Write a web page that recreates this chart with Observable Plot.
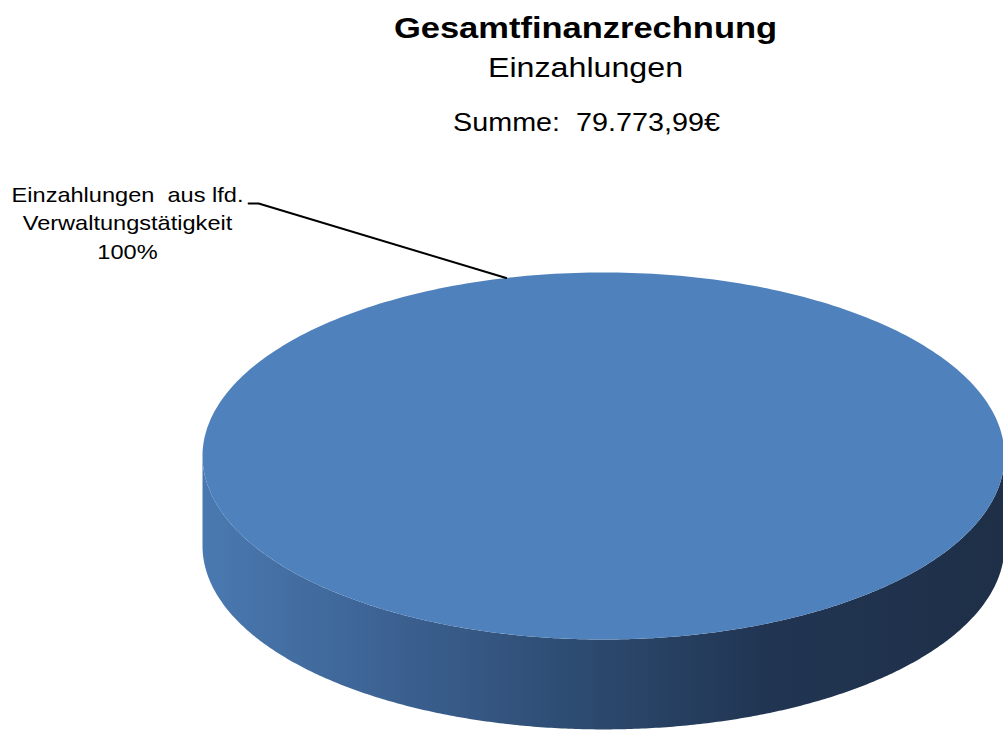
<!DOCTYPE html>
<html>
<head>
<meta charset="utf-8">
<script src="https://cdn.jsdelivr.net/npm/d3@7"></script>
<script src="https://cdn.jsdelivr.net/npm/@observablehq/plot@0.6"></script>
<style>
  html, body { margin: 0; padding: 0; background: #ffffff; }
  #chart svg { display: block; }
</style>
</head>
<body>
<div id="chart"></div>
<script>
// ---- data ----
const title = "Gesamtfinanzrechnung";
const subtitle = "Einzahlungen";
const sumLabel = "Summe:  79.773,99€";
const categories = ["Einzahlungen  aus lfd.\nVerwaltungstätigkeit"];
const values = [79773.99];
const colors = ["#4f81bd"];

// ---- layout constants ----
const W = 1003, H = 731;
const depth = 0.49;          // pie thickness in y-units
const stretch = 1.15;        // horizontal text stretch of the original image
const labelAngle = 1.816;    // angle (rad) on the rim where the leader line ends

// ---- geometry derived from data ----
const total = d3.sum(values);
const arcs = d3.pie().sort(null)(values);
const N = 360;
const topPts = [], sidePts = [];
arcs.forEach((a, i) => {
  // convert d3 angles (clockwise from 12 o'clock) to math angles
  const t1 = Math.PI / 2 - a.endAngle, t2 = Math.PI / 2 - a.startAngle;
  const pts = [];
  if (a.endAngle - a.startAngle < 2 * Math.PI - 1e-9) pts.push({x: 0, y: 0, i});
  for (let k = 0; k <= N; k++) {
    const t = t1 + (t2 - t1) * k / N;
    pts.push({x: Math.cos(t), y: Math.sin(t), i});
  }
  topPts.push(...pts);
  // visible front side: math angles between π and 2π
  const norm = t => ((t % (2 * Math.PI)) + 2 * Math.PI) % (2 * Math.PI);
  let s1 = Math.max(Math.PI, t1 < Math.PI ? Math.PI : t1);
  let s2 = Math.min(2 * Math.PI, t2);
  if (t2 - t1 >= 2 * Math.PI - 1e-9) { s1 = Math.PI; s2 = 2 * Math.PI; }
  if (s2 > s1) {
    const up = [], down = [];
    for (let k = 0; k <= N; k++) {
      const t = s1 + (s2 - s1) * k / N;
      up.push({x: Math.cos(t), y: Math.sin(t), i});
      down.push({x: Math.cos(t), y: Math.sin(t) - depth, i});
    }
    sidePts.push(...up, ...down.reverse());
  }
});

const labelText = categories.map((c, i) => `${c}\n${Math.round(values[i] / total * 100)}%`);
const rim = {x: Math.cos(labelAngle), y: Math.sin(labelAngle)};
const leader = [
  {x: -0.885, y: 1.376},
  {x: -0.860, y: 1.376},
  rim
];

const chart = Plot.plot({
  width: W,
  height: H,
  margin: 0,
  style: {fontFamily: "'Liberation Sans', Arial, sans-serif", background: "#ffffff", overflow: "visible"},
  x: {domain: [-1, 1], range: [202, 1004], axis: null},
  y: {domain: [-1, 1], range: [639, 272], axis: null},
  marks: [
    Plot.line(sidePts, {x: "x", y: "y", z: "i", fill: "url(#sideGrad)", stroke: "none", curve: "linear"}),
    Plot.line(topPts, {x: "x", y: "y", z: "i", fill: (d) => colors[d.i], stroke: "none", curve: "linear"}),
    Plot.line(leader, {x: "x", y: "y", stroke: "#000000", strokeWidth: 2}),
    Plot.text([title], {text: d => d, frameAnchor: "top-left", dx: 585, dy: 37, lineAnchor: "bottom", textAnchor: "middle", fontSize: 30, fontWeight: "bold", fill: "#000000"}),
    Plot.text([subtitle], {text: d => d, frameAnchor: "top-left", dx: 585, dy: 76, lineAnchor: "bottom", textAnchor: "middle", fontSize: 28, fill: "#000000"}),
    Plot.text([sumLabel], {text: d => d, frameAnchor: "top-left", dx: 586, dy: 130, lineAnchor: "bottom", textAnchor: "middle", fontSize: 25, fill: "#000000"}),
    Plot.text(labelText, {text: d => d, frameAnchor: "top-left", dx: 127, dy: 258, lineAnchor: "bottom", textAnchor: "middle", fontSize: 20.5, lineHeight: 1.37, fill: "#000000"})
  ]
});

// gradient for the pie's side
const svg = d3.select(chart);
const defs = svg.insert("defs", ":first-child");
const grad = defs.append("linearGradient").attr("id", "sideGrad").attr("x1", 0).attr("x2", 1).attr("y1", 0).attr("y2", 0);
[[0, "#4a79b1"], [0.25, "#3b6090"], [0.5, "#2b486c"], [0.7, "#213553"], [1, "#1e2f47"]]
  .forEach(([o, c]) => grad.append("stop").attr("offset", o).attr("stop-color", c));

// horizontal stretch of texts (the original picture is slightly widened)
svg.selectAll("text").each(function () {
  const el = d3.select(this);
  const x = +(el.attr("x") || 0), y = +(el.attr("y") || 0);
  const t = el.attr("transform") || "";
  el.attr("x", null).attr("y", null)
    .attr("transform", `${t} translate(${x},${y}) scale(${stretch},1)`);
});

document.getElementById("chart").appendChild(chart);
</script>
</body>
</html>
